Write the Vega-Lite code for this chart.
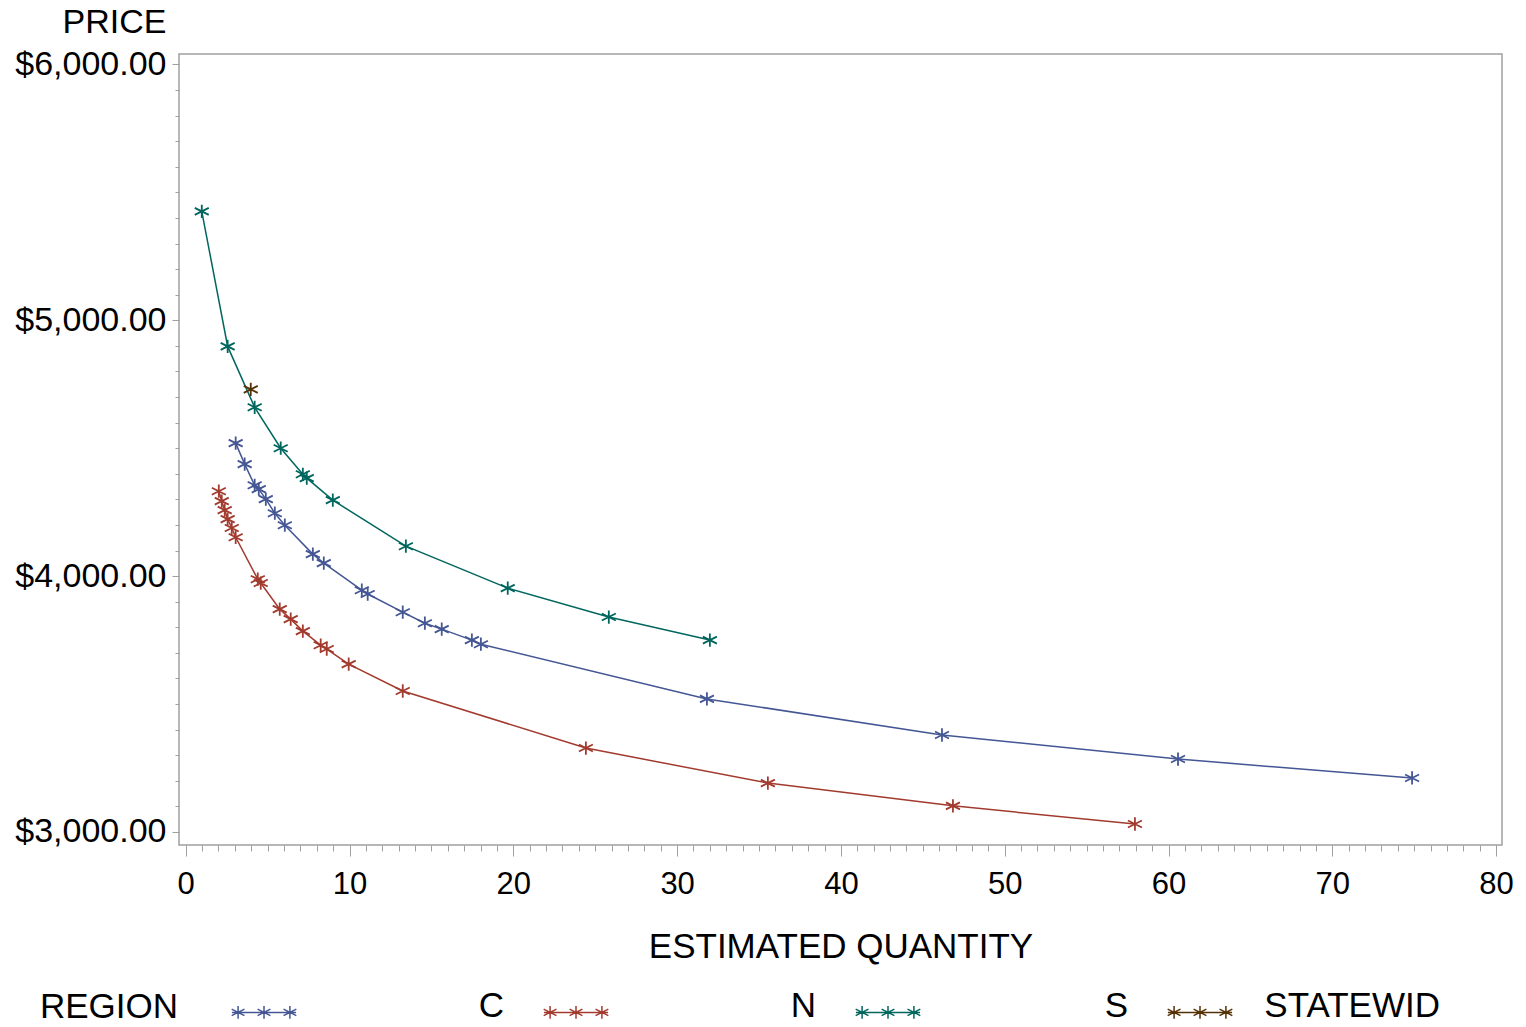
{
  "$schema": "https://vega.github.io/schema/vega-lite/v6.json",
  "width": 1323,
  "height": 791,
  "autosize": "none",
  "padding": {"left": 179, "top": 54, "right": 24, "bottom": 182},
  "background": "white",
  "config": {
    "font": "Liberation Sans",
    "view": {"stroke": "#a0a0a0", "strokeWidth": 1.5},
    "axis": {
      "domain": false,
      "grid": false,
      "tickColor": "#a0a0a0",
      "tickWidth": 1,
      "labelFont": "Liberation Sans",
      "titleFont": "Liberation Sans",
      "labelColor": "#000000",
      "titleColor": "#000000",
      "titleFontWeight": "normal"
    },
    "legend": {
      "labelFont": "Liberation Sans",
      "titleFont": "Liberation Sans"
    }
  },
  "datasets": {
    "pts": [
      {"region": "C", "q": 3.05, "price": 4520},
      {"region": "C", "q": 3.60, "price": 4438},
      {"region": "C", "q": 4.21, "price": 4355},
      {"region": "C", "q": 4.46, "price": 4340},
      {"region": "C", "q": 4.89, "price": 4301},
      {"region": "C", "q": 5.44, "price": 4246},
      {"region": "C", "q": 6.05, "price": 4199},
      {"region": "C", "q": 7.76, "price": 4086},
      {"region": "C", "q": 8.43, "price": 4051},
      {"region": "C", "q": 10.75, "price": 3945},
      {"region": "C", "q": 11.11, "price": 3930},
      {"region": "C", "q": 13.25, "price": 3859},
      {"region": "C", "q": 14.60, "price": 3816},
      {"region": "C", "q": 15.63, "price": 3793},
      {"region": "C", "q": 17.47, "price": 3750},
      {"region": "C", "q": 18.02, "price": 3734},
      {"region": "C", "q": 31.82, "price": 3520},
      {"region": "C", "q": 46.17, "price": 3379},
      {"region": "C", "q": 60.58, "price": 3285},
      {"region": "C", "q": 74.87, "price": 3211},
      {"region": "N", "q": 2.02, "price": 4332},
      {"region": "N", "q": 2.20, "price": 4293},
      {"region": "N", "q": 2.38, "price": 4258},
      {"region": "N", "q": 2.56, "price": 4223},
      {"region": "N", "q": 2.81, "price": 4188},
      {"region": "N", "q": 3.05, "price": 4152},
      {"region": "N", "q": 4.40, "price": 3988},
      {"region": "N", "q": 4.58, "price": 3973},
      {"region": "N", "q": 5.74, "price": 3871},
      {"region": "N", "q": 6.41, "price": 3832},
      {"region": "N", "q": 7.15, "price": 3785},
      {"region": "N", "q": 8.24, "price": 3730},
      {"region": "N", "q": 8.61, "price": 3715},
      {"region": "N", "q": 9.95, "price": 3656},
      {"region": "N", "q": 13.25, "price": 3551},
      {"region": "N", "q": 24.43, "price": 3328},
      {"region": "N", "q": 35.54, "price": 3191},
      {"region": "N", "q": 46.84, "price": 3102},
      {"region": "N", "q": 57.95, "price": 3031},
      {"region": "S", "q": 0.98, "price": 5426},
      {"region": "S", "q": 2.56, "price": 4898},
      {"region": "S", "q": 4.21, "price": 4660},
      {"region": "S", "q": 5.80, "price": 4500},
      {"region": "S", "q": 7.15, "price": 4398},
      {"region": "S", "q": 7.39, "price": 4383},
      {"region": "S", "q": 8.98, "price": 4297},
      {"region": "S", "q": 13.44, "price": 4117},
      {"region": "S", "q": 19.66, "price": 3953},
      {"region": "S", "q": 25.83, "price": 3840},
      {"region": "S", "q": 32.0, "price": 3750},
      {"region": "STATEWID", "q": 3.97, "price": 4730}
    ]
  },
  "data": {"name": "pts"},
  "layer": [
    {
      "mark": {
        "type": "line",
        "strokeWidth": 1.5,
        "point": {
          "shape": "M0,-0.95L0,0.95M-1,-0.5L1,0.5M-1,0.5L1,-0.5",
          "filled": false,
          "size": 196,
          "strokeWidth": 1.8
        }
      },
      "encoding": {
        "x": {
          "field": "q",
          "type": "quantitative",
          "scale": {"domain": [-0.41, 80.36], "nice": false, "zero": false},
          "axis": {
            "orient": "bottom",
            "values": [0, 10, 20, 30, 40, 50, 60, 70, 80],
            "tickSize": 11,
            "labelFontSize": 31,
            "labelBaseline": "alphabetic",
            "labelPadding": 37,
            "title": "ESTIMATED QUANTITY",
            "titleFontSize": 35,
            "titleBaseline": "alphabetic",
            "titleY": 112
          }
        },
        "y": {
          "field": "price",
          "type": "quantitative",
          "scale": {"domain": [2949, 6041], "nice": false, "zero": false},
          "axis": {
            "orient": "left",
            "values": [3000, 4000, 5000, 6000],
            "format": "$,.2f",
            "tickSize": 7,
            "labelFontSize": 34,
            "labelBaseline": "middle",
            "labelPadding": 6,
            "title": "PRICE",
            "titleFontSize": 34,
            "titleAngle": 0,
            "titleAlign": "right",
            "titleBaseline": "alphabetic",
            "titleX": -13,
            "titleY": -22
          }
        },
        "color": {
          "field": "region",
          "type": "nominal",
          "scale": {
            "domain": ["C", "N", "S", "STATEWID"],
            "range": ["#445694", "#A23A2E", "#01665E", "#543005"]
          },
          "legend": {
            "title": "REGION",
            "orient": "none",
            "legendX": -139,
            "legendY": 935,
            "direction": "horizontal",
            "columns": 4,
            "padding": 0,
            "titleOrient": "left",
            "titleFontSize": 35,
            "titleFontWeight": "normal",
            "titleColor": "#000000",
            "titlePadding": 52,
            "titleBaseline": "middle",
            "titleAnchor": "middle",
            "labelFontSize": 35,
            "labelColor": "#000000",
            "labelAlign": "right",
            "labelOffset": 207,
            "labelLimit": 0,
            "columnPadding": 39,
            "clipHeight": 34,
            "symbolType": "M-1,0.2L1,0.2M-0.81,0L-0.81,0.4M-1.01,0.1L-0.61,0.3M-1.01,0.3L-0.61,0.1M0,0L0,0.4M-0.2,0.1L0.2,0.3M-0.2,0.3L0.2,0.1M0.81,0L0.81,0.4M0.61,0.1L1.01,0.3M0.61,0.3L1.01,0.1",
            "symbolSize": 4096,
            "symbolStrokeWidth": 1.5,
            "symbolFillColor": "transparent"
          }
        }
      }
    },
    {
      "mark": {"type": "point", "opacity": 0},
      "encoding": {
        "x": {
          "field": "q",
          "type": "quantitative",
          "axis": {
            "orient": "bottom",
            "values": [0,1,2,3,4,5,6,7,8,9,10,11,12,13,14,15,16,17,18,19,20,21,22,23,24,25,26,27,28,29,30,31,32,33,34,35,36,37,38,39,40,41,42,43,44,45,46,47,48,49,50,51,52,53,54,55,56,57,58,59,60,61,62,63,64,65,66,67,68,69,70,71,72,73,74,75,76,77,78,79,80],
            "labels": false,
            "tickSize": 6,
            "title": null
          }
        },
        "y": {
          "field": "price",
          "type": "quantitative",
          "axis": {
            "orient": "left",
            "values": [3000,3100,3200,3300,3400,3500,3600,3700,3800,3900,4000,4100,4200,4300,4400,4500,4600,4700,4800,4900,5000,5100,5200,5300,5400,5500,5600,5700,5800,5900,6000],
            "labels": false,
            "tickSize": 4,
            "title": null
          }
        }
      }
    }
  ],
  "resolve": {"axis": {"x": "independent", "y": "independent"}}
}
